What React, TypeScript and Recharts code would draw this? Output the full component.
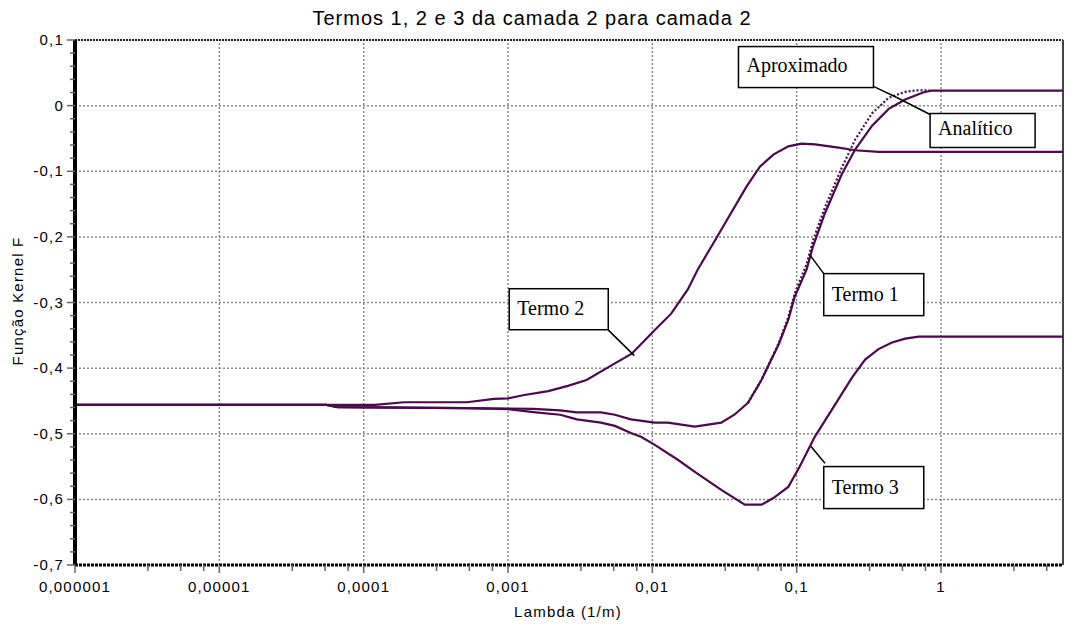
import { LineChart, Line, XAxis, YAxis, ReferenceLine, ReferenceDot } from 'recharts';

const X_MIN = 0.000001;
const X_MAX = 7;
const CURVE = '#4a0a4c';

// major decades with their labels, minor ticks as multiples inside each decade
const xMajor = [0.000001, 0.00001, 0.0001, 0.001, 0.01, 0.1, 1];
const xMajorLabels = ['0,000001', '0,00001', '0,0001', '0,001', '0,01', '0,1', '1'];
const xMinorSteps = [3.2, 5.4, 7.8];

const yMajor = [0.1, 0, -0.1, -0.2, -0.3, -0.4, -0.5, -0.6, -0.7];

// Termo 1 (analitico)
const termo1Lambda = [
  0.000001, 0.000055, 0.000066, 0.0005, 0.001, 0.0015, 0.0023, 0.003, 0.0044, 0.0055, 0.0071,
  0.0104, 0.0128, 0.0197, 0.03, 0.037, 0.046, 0.057, 0.075, 0.0875, 0.097, 0.117, 0.13, 0.157,
  0.205, 0.254, 0.332, 0.434, 0.565, 0.75, 0.87, 7,
];
const termo1Values = [
  -0.456, -0.456, -0.4595, -0.461, -0.4615, -0.462, -0.4645, -0.4675, -0.4675, -0.471, -0.478,
  -0.483, -0.483, -0.489, -0.483, -0.471, -0.453, -0.418, -0.364, -0.326, -0.291, -0.25, -0.214,
  -0.164, -0.105, -0.067, -0.031, -0.005, 0.0093, 0.02, 0.023, 0.023,
];

// Termo 1 (aproximado)
const termo1ApproxLambda = [0.046, 0.057, 0.075, 0.0875, 0.097, 0.117, 0.13, 0.157, 0.205, 0.254, 0.332, 0.434, 0.565, 0.7, 0.87];
const termo1ApproxValues = [-0.453, -0.418, -0.362, -0.322, -0.286, -0.242, -0.205, -0.155, -0.095, -0.052, -0.012, 0.012, 0.021, 0.0235, 0.023];

// Termo 2
const termo2Lambda = [
  0.000001, 0.00012, 0.00019, 0.00052, 0.0008, 0.001, 0.0013, 0.0019, 0.0026, 0.0035, 0.0051,
  0.0072, 0.0104, 0.0135, 0.0176, 0.0206, 0.0274, 0.045, 0.0556, 0.0689, 0.0875, 0.108, 0.134,
  0.195, 0.254, 0.369, 7,
];
const termo2Values = [
  -0.456, -0.456, -0.452, -0.452, -0.447, -0.446, -0.441, -0.435, -0.427, -0.418, -0.397,
  -0.378, -0.342, -0.317, -0.28, -0.25, -0.204, -0.123, -0.093, -0.0746, -0.062, -0.058, -0.059,
  -0.064, -0.068, -0.0705, -0.0705,
];

// Termo 3
const termo3Lambda = [
  0.000001, 0.000055, 0.000066, 0.0005, 0.001, 0.0015, 0.0023, 0.003, 0.0044, 0.0055, 0.0071,
  0.0084, 0.0104, 0.0151, 0.0197, 0.0302, 0.0437, 0.0572, 0.0689, 0.0875, 0.105, 0.134, 0.175,
  0.241, 0.298, 0.369, 0.457, 0.565, 0.7, 7,
];
const termo3Values = [
  -0.456, -0.456, -0.4595, -0.461, -0.4625, -0.467, -0.471, -0.478, -0.483, -0.488, -0.499,
  -0.505, -0.517, -0.54, -0.558, -0.586, -0.608, -0.608, -0.598, -0.581, -0.55, -0.504, -0.4636,
  -0.415, -0.387, -0.371, -0.361, -0.355, -0.352, -0.352,
];

const toPoints = (xs: number[], ys: number[]) => xs.map((x, i) => ({ x, y: ys[i] }));

const xTicks = xMajor
  .flatMap((d) => [d, ...xMinorSteps.map((s) => s * d)])
  .filter((v) => v <= X_MAX);

const yTicks = Array.from({ length: 41 }, (_, i) => Math.round((-0.7 + i * 0.02) * 100) / 100);

// callout boxes: anchor is the top-left corner in data units
const callouts = [
  { label: 'Aproximado', x: 0.0395, y: 0.09, w: 135, h: 41, base: 25 },
  { label: 'Analítico', x: 0.84, y: -0.012, w: 105, h: 34, base: 21 },
  { label: 'Termo 2', x: 0.00102, y: -0.279, w: 99, h: 41, base: 26 },
  { label: 'Termo 1', x: 0.154, y: -0.256, w: 100, h: 42, base: 27 },
  { label: 'Termo 3', x: 0.154, y: -0.55, w: 100, h: 42, base: 27 },
];

const leaders = [
  [{ x: 0.343, y: 0.029 }, { x: 0.494, y: 0.0124 }],
  [{ x: 0.84, y: -0.0135 }, { x: 0.494, y: 0.0124 }],
  [{ x: 0.00494, y: -0.3417 }, { x: 0.0075, y: -0.381 }],
  [{ x: 0.154, y: -0.256 }, { x: 0.123, y: -0.227 }],
  [{ x: 0.157, y: -0.545 }, { x: 0.1257, y: -0.5195 }],
];

const SANS = '"Liberation Sans", Arial, sans-serif';
const SERIF = '"Liberation Serif", "Times New Roman", serif';

const isMajorX = (v: number) => xMajor.findIndex((m) => Math.abs(v / m - 1) < 1e-9);
const isMajorY = (v: number) => Math.abs(v * 10 - Math.round(v * 10)) < 1e-6;
const fmtY = (v: number) => (Math.abs(v) < 1e-9 ? '0' : v.toFixed(1).replace('.', ','));

const XTick = (props: any) => {
  const { x, y, payload } = props;
  const idx = isMajorX(payload.value);
  return (
    <g>
      <line x1={x} x2={x} y1={y} y2={y + (idx >= 0 ? 8 : 6)} stroke='#666' strokeWidth={1.5} />
      {idx >= 0 && (
        <text x={x} y={y + 27} textAnchor='middle' fontFamily={SANS} fontSize={15} letterSpacing={1.2} fill='#000'>
          {xMajorLabels[idx]}
        </text>
      )}
    </g>
  );
};

const YTick = (props: any) => {
  const { x, y, payload } = props;
  const major = isMajorY(payload.value);
  return (
    <g>
      <line x1={x - (major ? 8 : 5)} x2={x} y1={y} y2={y} stroke='#666' strokeWidth={1.5} />
      {major && (
        <text x={x - 11} y={y + 5} textAnchor='end' fontFamily={SANS} fontSize={15} letterSpacing={1.2} fill='#000'>
          {fmtY(payload.value)}
        </text>
      )}
    </g>
  );
};

const boxShape = (c: (typeof callouts)[number]) => (props: any) => {
  const { cx, cy } = props;
  return (
    <g>
      <rect x={cx} y={cy} width={c.w} height={c.h} fill='#fff' stroke='#000' strokeWidth={1.5} />
      <text x={cx + 8} y={cy + c.base} fontFamily={SERIF} fontSize={20} fill='#000'>
        {c.label}
      </text>
    </g>
  );
};

export default function App() {
  return (
    <div style={{ position: 'absolute', left: 0, top: 0, width: 1087, height: 644, background: '#fff' }}>
      <div
        style={{
          position: 'absolute', left: 532, top: 7, transform: 'translateX(-50%)', whiteSpace: 'nowrap',
          fontFamily: SANS, fontSize: 20, letterSpacing: 1, lineHeight: '22px',
        }}
      >
        Termos 1, 2 e 3 da camada 2 para camada 2
      </div>
      <div
        style={{
          position: 'absolute', left: 568, top: 603, transform: 'translateX(-50%)', whiteSpace: 'nowrap',
          fontFamily: SANS, fontSize: 15, letterSpacing: 1.2, lineHeight: '17px',
        }}
      >
        Lambda (1/m)
      </div>
      <div
        style={{
          position: 'absolute', left: 17, top: 301, transform: 'translate(-50%, -50%) rotate(-90deg)',
          whiteSpace: 'nowrap', fontFamily: SANS, fontSize: 15, letterSpacing: 1.2, lineHeight: '17px',
        }}
      >
        Função Kernel F
      </div>

      <LineChart width={1087} height={644} margin={{ top: 40, right: 24, bottom: 49, left: 15 }}>
        <XAxis
          dataKey='x'
          type='number'
          scale='log'
          domain={[X_MIN, X_MAX]}
          allowDataOverflow
          ticks={xTicks}
          interval={0}
          tick={(p: any) => <XTick {...p} />}
          tickLine={false}
          tickSize={0}
          tickMargin={0}
          height={30}
          axisLine={{ stroke: '#000', strokeWidth: 3, strokeDasharray: '3 1' }}
        />
        <YAxis
          type='number'
          domain={[-0.7, 0.1]}
          allowDataOverflow
          ticks={yTicks}
          interval={0}
          tick={(p: any) => <YTick {...p} />}
          tickLine={false}
          tickSize={0}
          tickMargin={0}
          width={60}
          axisLine={{ stroke: '#000', strokeWidth: 4 }}
        />

        {xMajor.slice(1).map((v) => (
          <ReferenceLine key={'gx' + v} x={v} stroke='#888' strokeWidth={1.5} strokeDasharray='2 2' />
        ))}
        {yMajor.slice(1, -1).map((v) => (
          <ReferenceLine key={'gy' + v} y={v} stroke='#888' strokeWidth={1.5} strokeDasharray='2 2' />
        ))}
        <ReferenceLine y={0.1} stroke='#222' strokeWidth={2} strokeDasharray='2 1' />
        <ReferenceLine x={X_MAX} stroke='#444' strokeWidth={2} />

        <Line data={toPoints(termo2Lambda, termo2Values)} dataKey='y' type='linear' stroke={CURVE} strokeWidth={2.2} dot={false} isAnimationActive={false} />
        <Line data={toPoints(termo3Lambda, termo3Values)} dataKey='y' type='linear' stroke={CURVE} strokeWidth={2.2} dot={false} isAnimationActive={false} />
        <Line data={toPoints(termo1Lambda, termo1Values)} dataKey='y' type='linear' stroke={CURVE} strokeWidth={2.2} dot={false} isAnimationActive={false} />
        <Line data={toPoints(termo1ApproxLambda, termo1ApproxValues)} dataKey='y' type='linear' stroke={CURVE} strokeWidth={2.2} strokeDasharray='2 2' dot={false} isAnimationActive={false} />

        {leaders.map((seg, i) => (
          <ReferenceLine key={'ld' + i} segment={seg} stroke='#000' strokeWidth={1.5} />
        ))}
        {callouts.map((c) => (
          <ReferenceDot key={c.label} x={c.x} y={c.y} ifOverflow='visible' shape={boxShape(c)} />
        ))}
      </LineChart>
    </div>
  );
}
